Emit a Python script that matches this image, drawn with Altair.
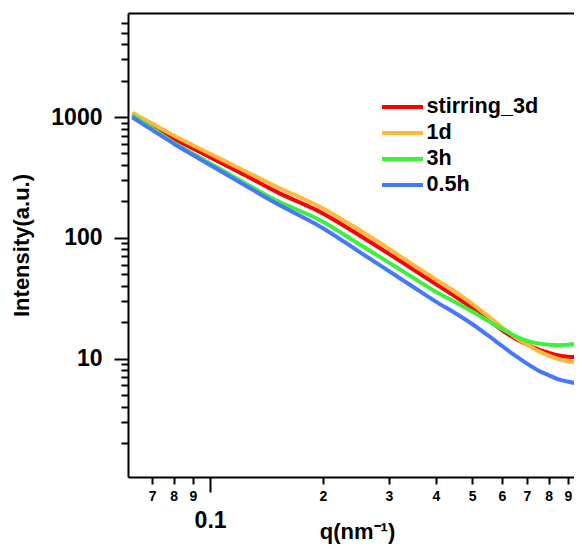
import altair as alt
import pandas as pd

# q values (nm^-1)
q = [0.062, 0.07, 0.08, 0.09, 0.1, 0.12, 0.15, 0.2, 0.25, 0.3, 0.35, 0.4,
     0.45, 0.5, 0.55, 0.6, 0.65, 0.7, 0.75, 0.8, 0.85, 0.9, 0.95, 0.98]

stirring_3d = [1049, 842, 661, 548, 465, 348, 241, 159, 105, 73.6, 54.0, 41.4,
               32.7, 26.2, 21.1, 17.2, 14.7, 13.1, 11.9, 11.15, 10.6, 10.35, 10.28, 10.28]
d1 = [1083, 882, 704, 584, 496, 374, 266, 175, 116, 80.9, 59.0, 45.1,
      35.7, 28.4, 22.6, 18.2, 15.1, 13.05, 11.56, 10.56, 9.91, 9.5, 9.25, 9.13]
h3 = [1035, 808, 614, 496, 413, 300, 204, 136, 88.4, 62.2, 46.2, 35.7,
      29.4, 24.5, 20.6, 17.6, 15.4, 14.0, 13.35, 13.0, 12.9, 13.0, 13.25, 13.5]
h05 = [996, 783, 601, 484, 400, 288, 193, 120, 76.5, 52.9, 38.7, 29.6,
       23.8, 19.3, 15.6, 12.75, 10.6, 9.08, 7.97, 7.27, 6.71, 6.44, 6.23, 6.15]

series_names = ["stirring_3d", "1d", "3h", "0.5h"]
legend_labels = ["stirring_3d", "\u00a01d", "\u00a03h", "\u00a00.5h"]
series_values = [stirring_3d, d1, h3, h05]
series_colors = ["#ff0000", "#ffb83c", "#3cf03c", "#4677ff"]

x_ticks = [0.07, 0.08, 0.09, 0.1, 0.2, 0.3, 0.4, 0.5, 0.6, 0.7, 0.8, 0.9, 1.0]
y_ticks = [2, 3, 4, 5, 6, 7, 8, 9, 10, 20, 30, 40, 50, 60, 70, 80, 90,
           100, 200, 300, 400, 500, 600, 700, 800, 900, 1000,
           2000, 3000, 4000, 5000, 6000]

rows = []
for name, vals in zip(series_names, series_values):
    for qi, vi in zip(q, vals):
        rows.append({"q": qi, "I": vi, "sample": name})
df = pd.DataFrame(rows)
legend_df = pd.DataFrame({"sample": series_names, "label": legend_labels})

FONT = "Liberation Sans"

x_major = "datum.value == 0.1 || datum.value == 1"
y_major = "datum.value == 10 || datum.value == 100 || datum.value == 1000"

x_scale = alt.Scale(type="log", domain=[0.0604, 0.9346], nice=False)
y_scale = alt.Scale(type="log", domain=[1.044, 7266], nice=False)
color_scale = alt.Scale(domain=series_names, range=series_colors)
legend_y_scale = alt.Scale(type="point", domain=series_names, range=[94, 172], padding=0)

x_axis = alt.Axis(
    values=x_ticks,
    title="q(nm⁻¹)",
    titleFont=FONT, titleFontSize=22, titleFontWeight="bold",
    titleX=229, titleY=61, titleAlign="center", titleBaseline="alphabetic",
    labelExpr="datum.value == 0.1 ? '0.1' : datum.value == 1 ? '1' : "
              "datum.value < 0.1 ? format(datum.value*100, '.0f') : format(datum.value*10, '.0f')",
    labelFont=FONT, labelFontWeight="bold",
    labelFontSize={"condition": {"test": x_major, "value": 23}, "value": 14},
    labelPadding={"condition": {"test": x_major, "value": 17}, "value": 5},
    tickSize={"condition": {"test": x_major, "value": 15}, "value": 7},
    tickWidth=2, tickColor="black", domainColor="black", domainWidth=2,
    labelColor="black", titleColor="black",
    labelOverlap=False, labelFlush=False, grid=False,
)

y_axis = alt.Axis(
    values=y_ticks,
    title="Intensity(a.u.)",
    titleFont=FONT, titleFontSize=22, titleFontWeight="bold", titlePadding=17,
    labelExpr="datum.value == 1000 ? '1000' : datum.value == 100 ? '100' : datum.value == 10 ? '10' : ''",
    labelFont=FONT, labelFontWeight="bold", labelFontSize=23,
    labelPadding=12,
    tickSize={"condition": {"test": y_major, "value": 14}, "value": 7},
    tickWidth=2, tickColor="black", domainColor="black", domainWidth=2,
    labelColor="black", titleColor="black",
    labelOverlap=False, labelFlush=False, grid=False,
)

lines = alt.Chart(df).mark_line(strokeWidth=4, interpolate="monotone", clip=True).encode(
    x=alt.X("q:Q", scale=x_scale, axis=x_axis),
    y=alt.Y("I:Q", scale=y_scale, axis=y_axis),
    color=alt.Color("sample:N", scale=color_scale, sort=series_names, legend=None),
)

top_frame = alt.Chart(df).mark_point(opacity=0).encode(
    x=alt.X("q:Q", scale=x_scale,
            axis=alt.Axis(orient="top", labels=False, ticks=False, title=None,
                          domainColor="black", domainWidth=2, grid=False)),
)

legend_lines = alt.Chart(legend_df).mark_rule(strokeWidth=4, strokeCap="butt").encode(
    x=alt.value(254), x2=alt.value(295),
    y=alt.Y("sample:N", scale=legend_y_scale, axis=None),
    color=alt.Color("sample:N", scale=color_scale, legend=None),
)

legend_text = alt.Chart(legend_df).mark_text(
    align="left", baseline="middle", font=FONT, fontSize=21.6, fontWeight="bold", color="black"
).encode(
    x=alt.value(298.5),
    y=alt.Y("sample:N", scale=legend_y_scale, axis=None),
    text="label:N",
)

chart = alt.layer(lines, top_frame, legend_lines, legend_text).resolve_axis(
    x="independent", y="independent"
).resolve_scale(y="independent").properties(
    width=446, height=464,
    autosize=alt.AutoSizeParams(type="none"),
    padding={"left": 120, "top": 5, "right": 0, "bottom": 68},
).configure_view(
    stroke=None
).configure(
    font=FONT
)

chart.save("out.html", embed_options={"renderer": "svg", "actions": False})
